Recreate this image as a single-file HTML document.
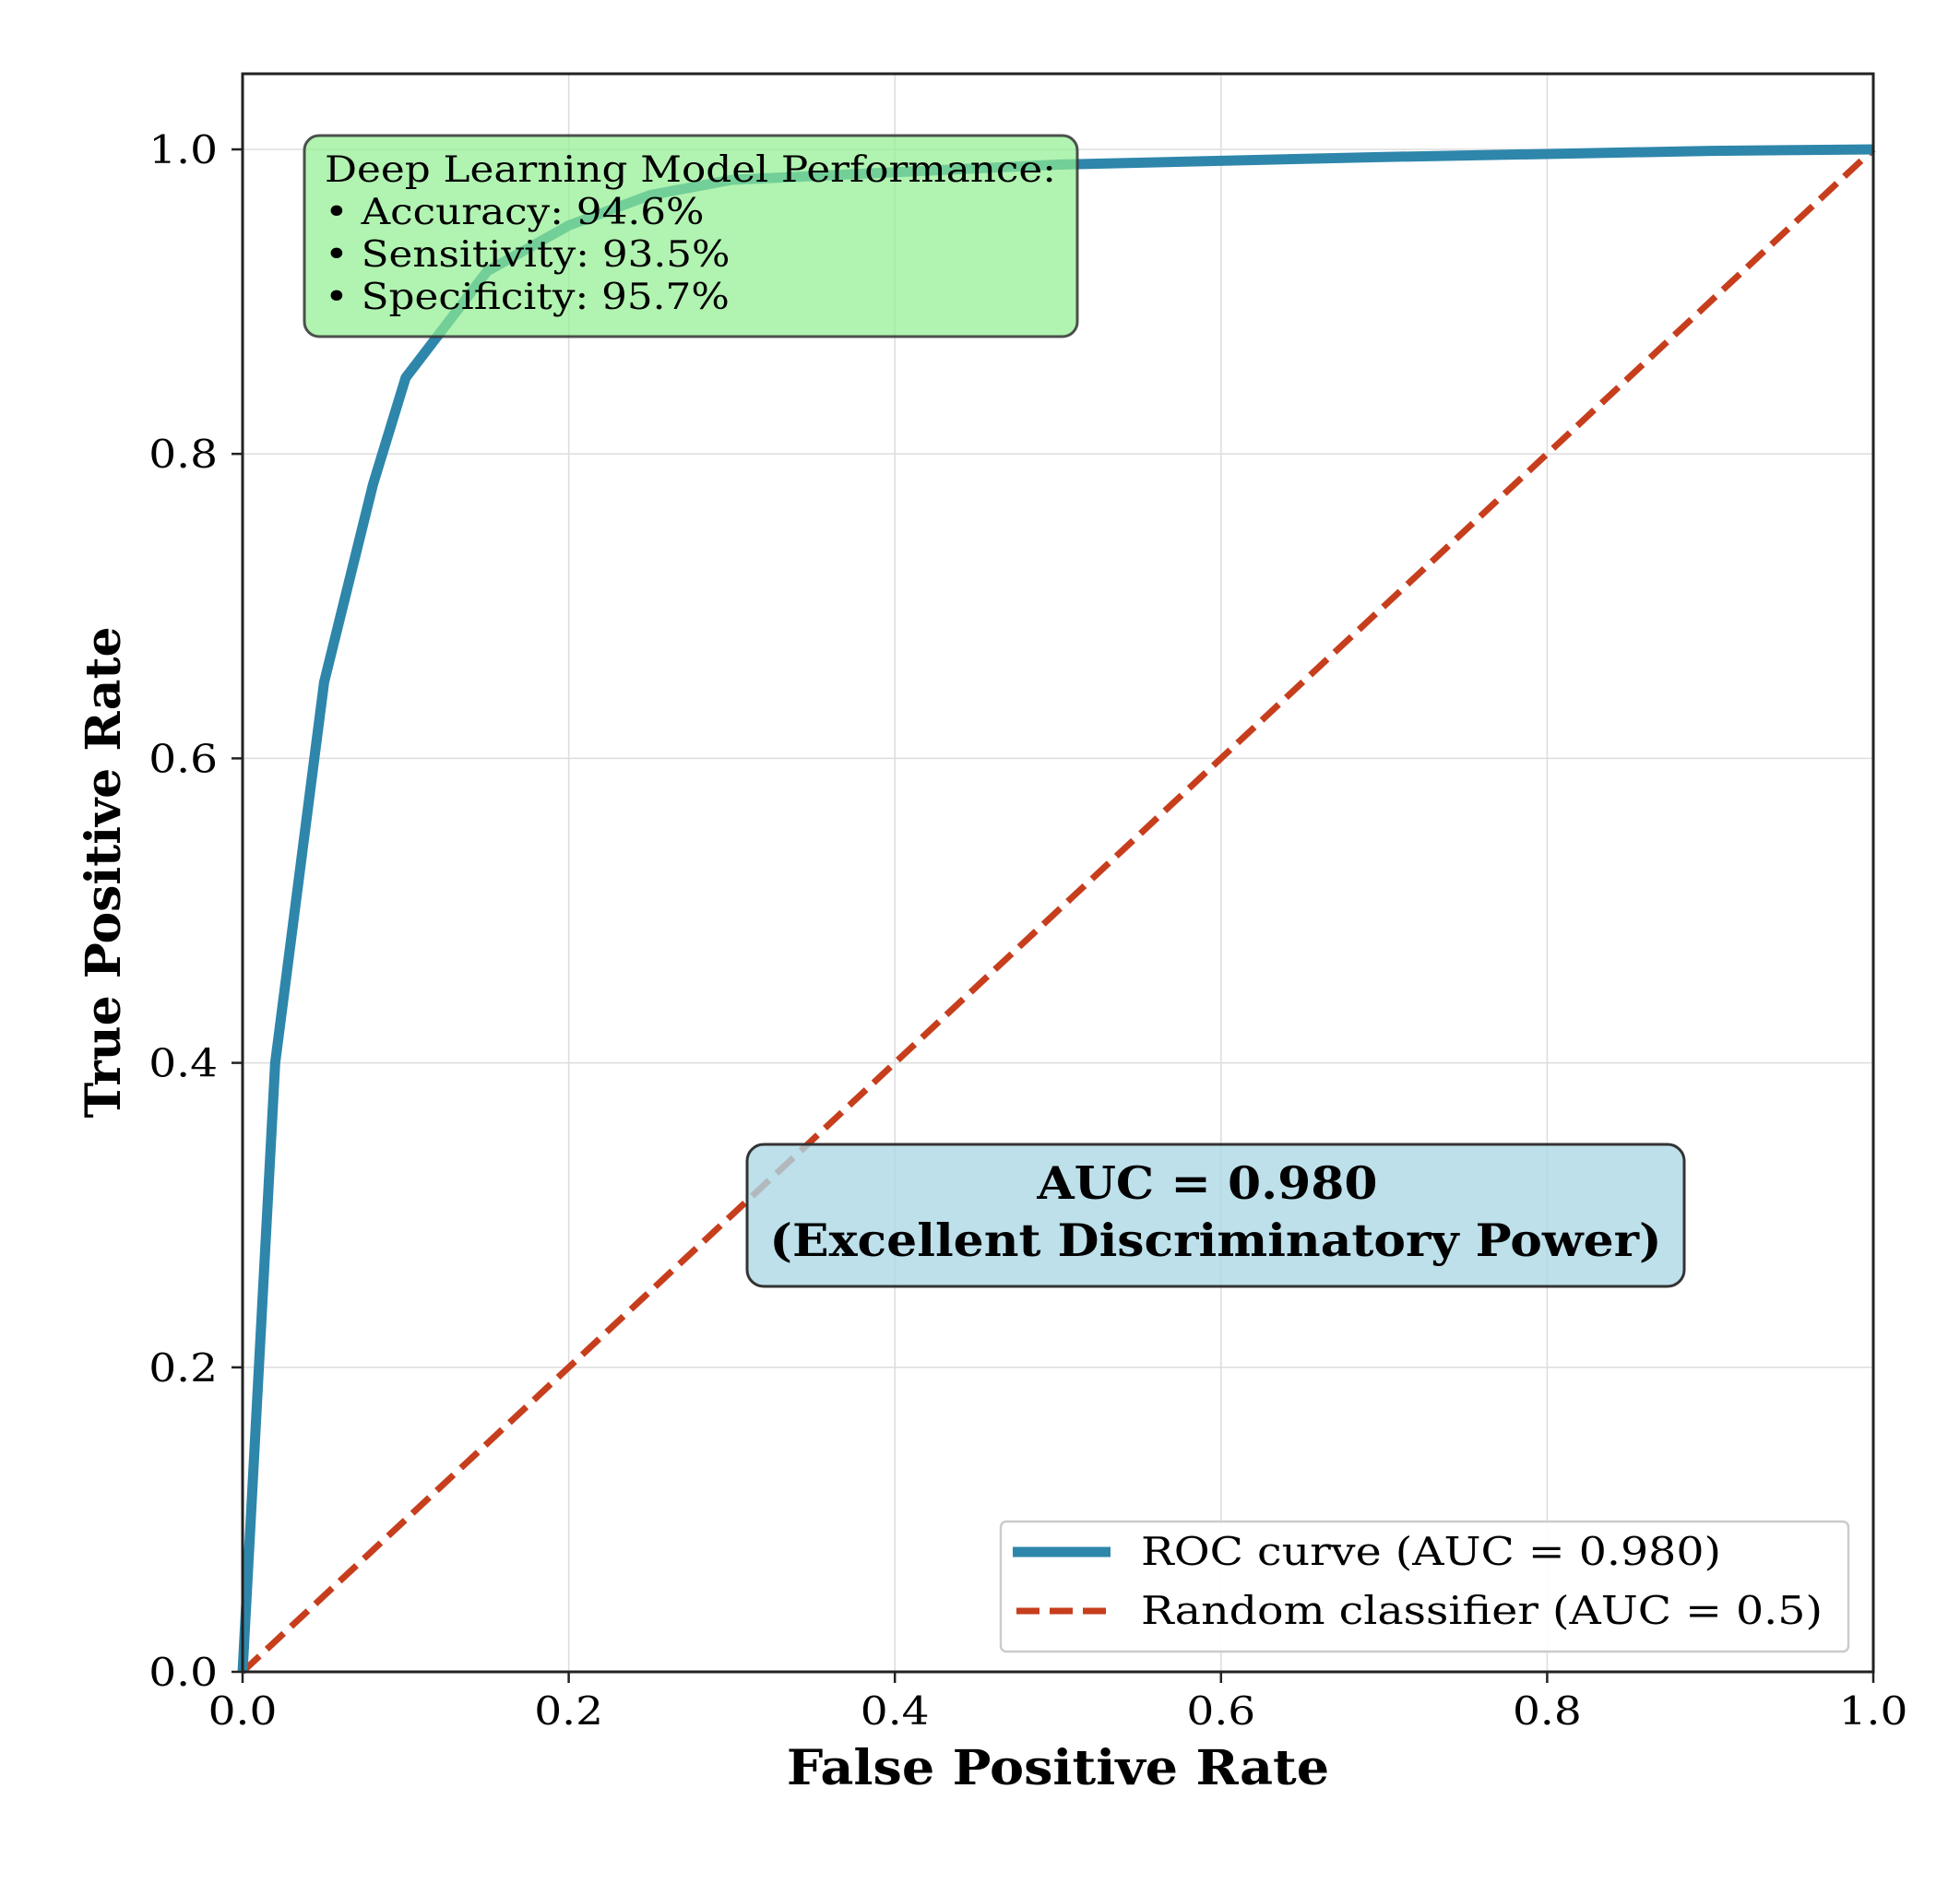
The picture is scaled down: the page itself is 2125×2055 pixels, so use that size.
<!DOCTYPE html>
<html><head><meta charset="utf-8"><style>
html,body{margin:0;padding:0;background:#fff;}
svg{display:block;font-family:"DejaVu Serif","Liberation Serif",serif;}
</style></head><body>
<svg id="chart" width="2125" height="2055" viewBox="0 0 2125 2055" xmlns="http://www.w3.org/2000/svg">
<g id="grid"></g>
<g id="series"></g>
<rect x="330" y="147" width="838" height="218" rx="16" fill="#90EE90" fill-opacity="0.7" stroke="#333" stroke-opacity="0.85" stroke-width="3"/>
<text font-size="39" fill="#000" transform="translate(352,0) scale(1.12,1)">
<tspan x="0" y="197">Deep Learning Model Performance:</tspan>
<tspan x="0" y="243">• Accuracy: 94.6%</tspan>
<tspan x="0" y="289">• Sensitivity: 93.5%</tspan>
<tspan x="0" y="335">• Specificity: 95.7%</tspan>
</text>
<rect x="810" y="1241" width="1016" height="154" rx="18" fill="#ADD8E6" fill-opacity="0.8" stroke="#333" stroke-width="3"/>
<text font-size="49" font-weight="bold" text-anchor="middle" fill="#000" transform="translate(1318,0) scale(1.06,1)">
<tspan x="0" y="1300">AUC = 0.980</tspan>
<tspan x="0" y="1362">(Excellent Discriminatory Power)</tspan>
</text>
<g>
<rect x="1085" y="1650" width="919" height="141" rx="6" fill="#fff" fill-opacity="0.9" stroke="#ccc" stroke-width="2.5"/>
<line x1="1098" y1="1683" x2="1204" y2="1683" stroke="#2E86AB" stroke-width="11"/>
<text font-size="42" transform="translate(1237,1697) scale(1.13,1)">ROC curve (AUC = 0.980)</text>
<line x1="1102" y1="1747" x2="1204" y2="1747" stroke="#C73E1D" stroke-width="7" stroke-dasharray="25,11"/>
<text font-size="42" transform="translate(1237,1761) scale(1.13,1)">Random classifier (AUC = 0.5)</text>
</g>
<rect x="263" y="80" width="1768" height="1733" fill="none" stroke="#222" stroke-width="3"/>
<g id="ticks"></g>
<text font-size="52" font-weight="bold" text-anchor="middle" transform="translate(1147,1935) scale(1.07,1)">False Positive Rate</text>
<text x="0" y="0" font-size="52" font-weight="bold" text-anchor="middle" transform="translate(130,946) rotate(-90)">True Positive Rate</text>
</svg>
<script>
const fpr = [0, 0.02, 0.05, 0.08, 0.10, 0.15, 0.20, 0.25, 0.30, 0.50, 0.70, 0.90, 1.0];
const tpr = [0, 0.40, 0.65, 0.78, 0.85, 0.92, 0.95, 0.97, 0.98, 0.99, 0.995, 0.999, 1.0];
const randomX = [0, 1];
const randomY = [0, 1];
const xTicks = [0, 0.2, 0.4, 0.6, 0.8, 1.0];
const yTicks = [0, 0.2, 0.4, 0.6, 0.8, 1.0];
const xTickLabels = ["0.0", "0.2", "0.4", "0.6", "0.8", "1.0"];
const yTickLabels = ["0.0", "0.2", "0.4", "0.6", "0.8", "1.0"];

const X0 = 263, X1 = 2031, Y0 = 1813, YPER = 1651;
function sx(v){ return X0 + v * (X1 - X0); }
function sy(v){ return Y0 - v * YPER; }
const NS = "http://www.w3.org/2000/svg";
const grid = document.getElementById('grid');
const ticks = document.getElementById('ticks');
const series = document.getElementById('series');
function mk(tag, attrs, parent){ const e = document.createElementNS(NS, tag); for (const k in attrs) e.setAttribute(k, attrs[k]); parent.appendChild(e); return e; }

xTicks.forEach((v, i) => {
  const g = mk('line', {x1: sx(v), x2: sx(v), y1: 80, y2: 1813, stroke: '#ddd', 'stroke-width': 1.5}, grid);
  
  
  const t = mk('line', {x1: sx(v), x2: sx(v), y1: 1813, y2: 1825, stroke: '#222', 'stroke-width': 2.5}, ticks);
  
  
  const l = mk('text', {'font-size': 42, 'text-anchor': 'middle', transform: 'translate(' + sx(v) + ',1870) scale(1.12,1)'}, ticks);
  l.textContent = xTickLabels[i];
  
  
});
yTicks.forEach((v, i) => {
  const g = mk('line', {x1: 263, x2: 2031, y1: sy(v), y2: sy(v), stroke: '#ddd', 'stroke-width': 1.5}, grid);
  
  
  const t = mk('line', {x1: 251, x2: 263, y1: sy(v), y2: sy(v), stroke: '#222', 'stroke-width': 2.5}, ticks);
  
  
  const l = mk('text', {'font-size': 42, 'text-anchor': 'end', transform: 'translate(236,' + (sy(v) + 15) + ') scale(1.12,1)'}, ticks);
  l.textContent = yTickLabels[i];
  
  
});

const rnd = mk('polyline', {points: randomX.map((v, i) => sx(v) + ',' + sy(randomY[i])).join(' '), fill: 'none', stroke: '#C73E1D', 'stroke-width': 7, 'stroke-dasharray': '25,11'}, series);


const roc = mk('polyline', {points: fpr.map((v, i) => sx(v) + ',' + sy(tpr[i])).join(' '), fill: 'none', stroke: '#2E86AB', 'stroke-width': 11, 'stroke-linejoin': 'round'}, series);


</script>
</body></html>
